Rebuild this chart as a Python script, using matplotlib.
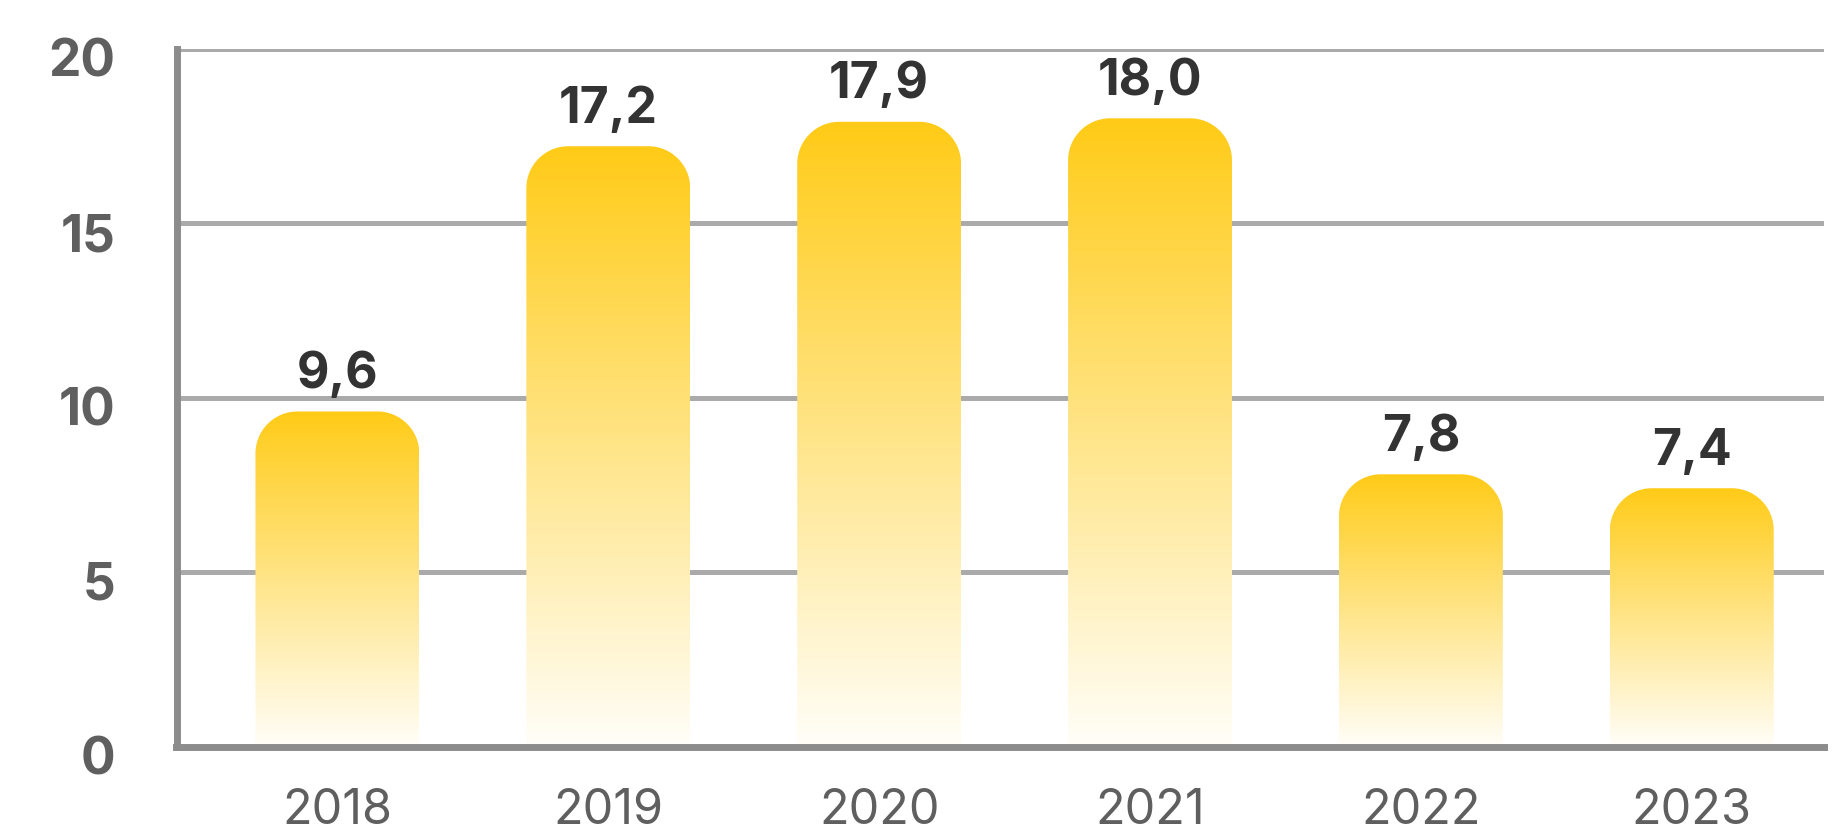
import numpy as np
import matplotlib
matplotlib.use("Agg")
import matplotlib.pyplot as plt
from matplotlib.path import Path
from matplotlib.patches import PathPatch
from matplotlib.colors import LinearSegmentedColormap
import matplotlib.transforms as mtransforms

# ---- data ----
years = ["2018", "2019", "2020", "2021", "2022", "2023"]
values = [9.6, 17.2, 17.9, 18.0, 7.8, 7.4]
value_labels = ["9,6", "17,2", "17,9", "18,0", "7,8", "7,4"]
y_ticks = [0, 5, 10, 15, 20]

plt.rcParams['font.family'] = ['Inter', 'DejaVu Sans']

W, H, DPI = 1839, 836, 100
fig = plt.figure(figsize=(W / DPI, H / DPI), dpi=DPI)
left, right = 176.5 / W, 1824 / W
bottom, top = (H - 746.5) / H, (H - 48.5) / H
ax = fig.add_axes([left, bottom, right - left, top - bottom])

xlim = (-0.594, 5.488)
ax.set_xlim(*xlim)
ax.set_ylim(0, 20)

# spines / grid
for s in ["top", "right"]:
    ax.spines[s].set_visible(False)
for s in ["left", "bottom"]:
    ax.spines[s].set_color("#8c8c8c")
    ax.spines[s].set_linewidth(5)
    ax.spines[s].set_zorder(5)
ax.set_axisbelow(True)
ax.yaxis.grid(True, color="#aaaaaa", linewidth=3.6)
ax.xaxis.grid(False)

ax.set_yticks(y_ticks)
ax.set_yticklabels([str(t) for t in y_ticks], fontsize=37, fontweight="bold", color="#5f5f5f")
ax.tick_params(axis="y", length=0, pad=44)
ax.set_xticks(range(len(years)))
ax.set_xticklabels(years, fontsize=35, color="#5f5f5f")
ax.tick_params(axis="x", length=0, pad=30)

off = mtransforms.ScaledTranslation(0, -9 / DPI, fig.dpi_scale_trans)
for lbl in ax.get_yticklabels():
    lbl.set_transform(lbl.get_transform() + off)

# pixels per data unit
px_x = (right - left) * W / (xlim[1] - xlim[0])
px_y = (top - bottom) * H / 20.0
r_px = 42
rx, ry = r_px / px_x, r_px / px_y
k = 0.5523

cmap = LinearSegmentedColormap.from_list("ygrad", ["#FFFEF8", "#FFCB17"])
bar_w = 0.605
grad = np.linspace(0, 1, 256).reshape(-1, 1)

for i, (v, lab) in enumerate(zip(values, value_labels)):
    x0, x1 = i - bar_w / 2, i + bar_w / 2
    verts = [
        (x0, 0), (x0, v - ry),
        (x0, v - ry + k * ry), (x0 + rx - k * rx, v), (x0 + rx, v),
        (x1 - rx, v),
        (x1 - rx + k * rx, v), (x1, v - ry + k * ry), (x1, v - ry),
        (x1, 0), (x0, 0),
    ]
    codes = [Path.MOVETO, Path.LINETO,
             Path.CURVE4, Path.CURVE4, Path.CURVE4,
             Path.LINETO,
             Path.CURVE4, Path.CURVE4, Path.CURVE4,
             Path.LINETO, Path.CLOSEPOLY]
    patch = PathPatch(Path(verts, codes), facecolor="none", edgecolor="none", zorder=3)
    ax.add_patch(patch)
    im = ax.imshow(grad, extent=[x0, x1, 0, v], origin="lower", cmap=cmap,
                   aspect="auto", zorder=3, interpolation="bilinear")
    im.set_clip_path(patch)
    ax.annotate(lab, xy=(i, v), xytext=(0, 17), textcoords="offset points",
                ha="center", va="baseline", fontsize=36, fontweight="bold",
                color="#333333", zorder=6, annotation_clip=False)

ax.set_xlim(*xlim)
ax.set_ylim(0, 20)

fig.savefig("out.png", dpi=DPI)
